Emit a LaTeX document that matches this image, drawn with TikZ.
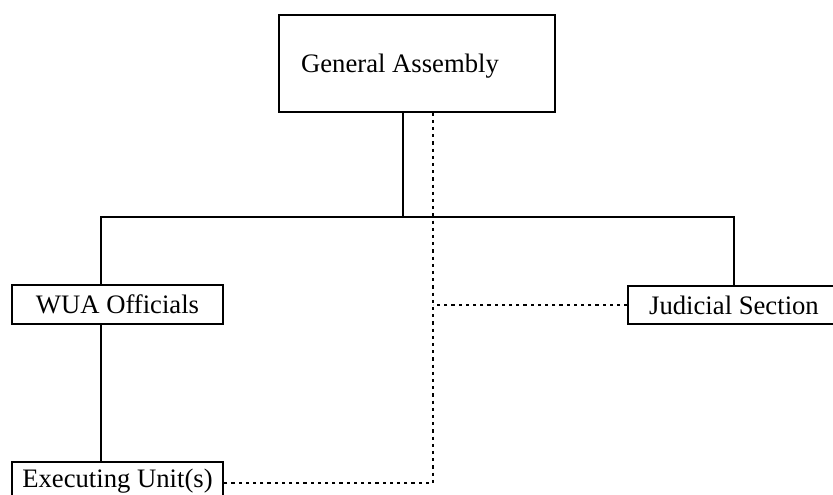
\documentclass[tikz,border=0pt]{standalone}
\usepackage{fontspec}
\setmainfont{Liberation Serif}
\begin{document}
\begin{tikzpicture}[x=0.75pt,y=-0.75pt,
  unit/.style={draw,line width=0.9pt,inner sep=0pt,font=\fontsize{20}{24}\selectfont},
  link/.style={line width=0.9pt},
  advisory/.style={line width=1.4pt,dash pattern=on 2.4pt off 3pt}]
\clip (0,0) rectangle (833,495);
\fill[white] (0,0) rectangle (833,495);

% organisational units
\node[unit,minimum width=207pt,minimum height=72.75pt,text height=17.5pt,text depth=4.3pt] (GA) at (417,63.5) {General Assembly\hspace*{25.5pt}};
\node[unit,minimum width=158.25pt,minimum height=29.25pt] (WUA) at (117.5,304.5) {WUA Officials};
\node[unit,minimum width=159pt,minimum height=28.5pt] (JS) at (734,305) {Judicial Section};
\node[unit,minimum width=158.25pt,minimum height=28.5pt] (EU) at (117.5,481) {Executing Unit(s)};

% reporting lines
\coordinate (busL) at (101,217);
\coordinate (busM) at (403,217);
\coordinate (busR) at (734,217);
\draw[link] (GA.south -| busM) -- (busM);
\draw[link] (WUA.north -| busL) -- (busL) -- (busR) -- (JS.north);
\draw[link] (WUA.south -| busL) -- (EU.north -| busL);

% advisory (dotted) lines
\coordinate (dv) at (433,483);
\draw[advisory] (GA.south -| dv) -- (dv) -- (EU.east |- dv);
\draw[advisory] (JS.west) -- (JS.west -| dv);
\end{tikzpicture}
\end{document}
